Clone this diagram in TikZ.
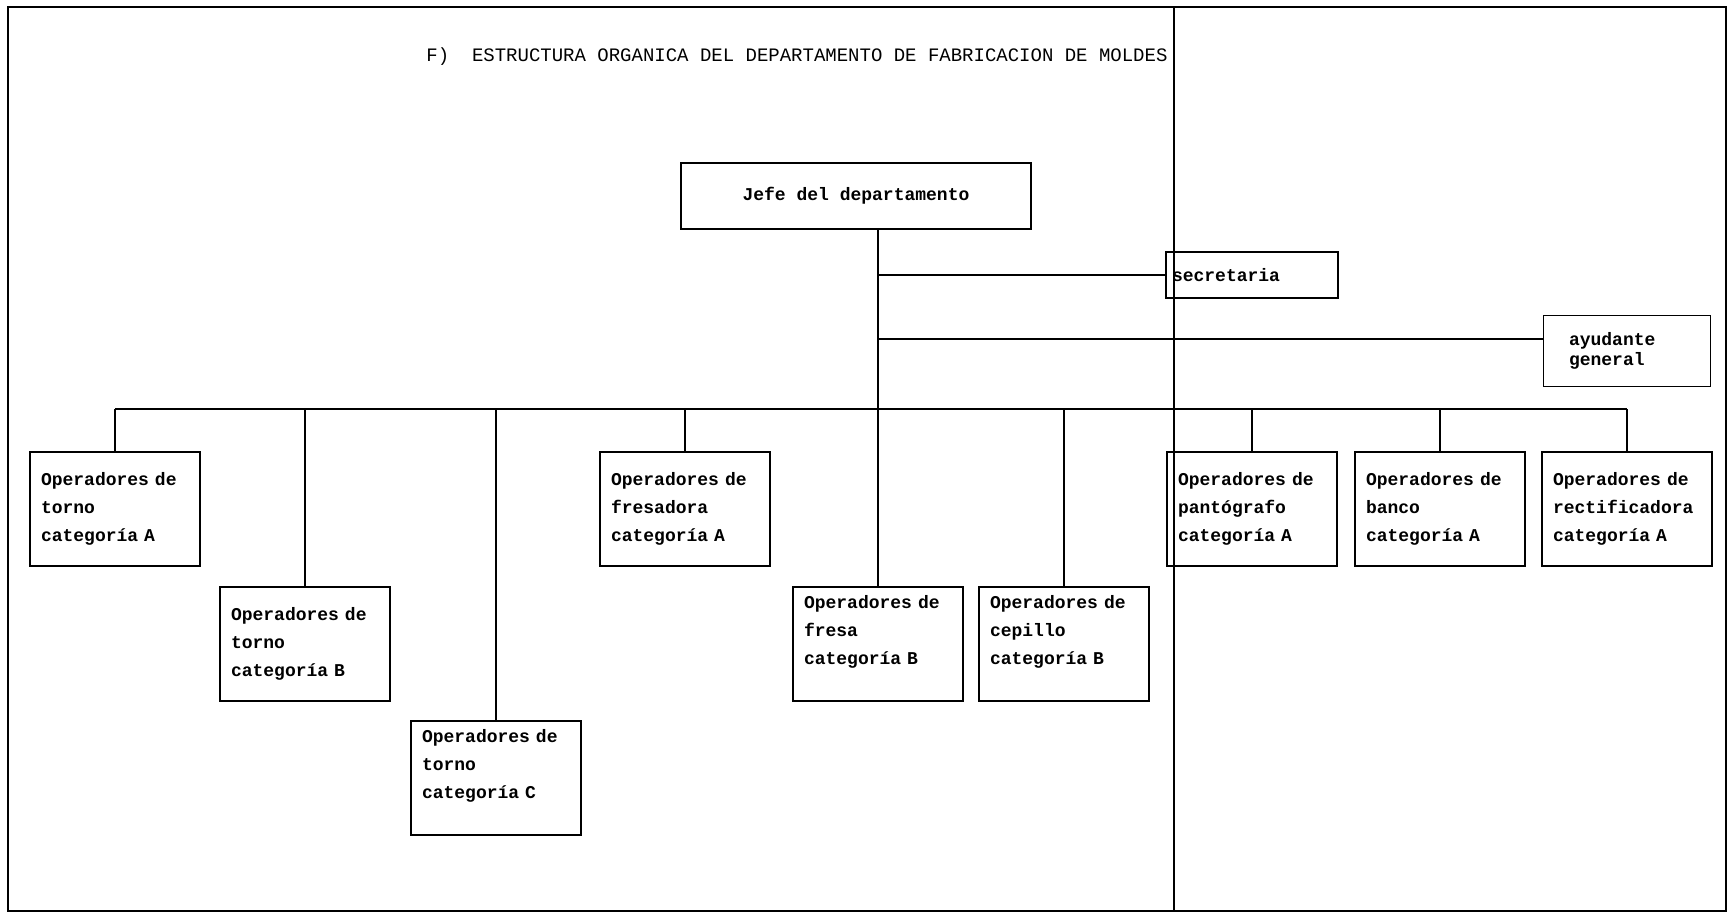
\documentclass[tikz,border=0pt]{standalone}
\usepackage{fontspec}
\newfontfamily\maquina{Liberation Mono}
\usetikzlibrary{calc}

\tikzset{
  puesto/.style={draw, line width=.9pt, align=left, text width=74pt, inner sep=3pt,
    minimum width=85pt, minimum height=57pt, font=\maquina\bfseries\fontsize{9}{14}\selectfont},
  arriba/.style={text depth=42pt},
  linea/.style={line width=.9pt}
}

\begin{document}
\begin{tikzpicture}[x=0.5pt,y=-0.5pt]
\useasboundingbox (0,0) rectangle (1729,916);
\fill[white] (0,0) rectangle (1729,916);
\draw[line width=.6pt] (8,7) rectangle (1726,911);
\draw[line width=.6pt] (1174,7) -- (1174,911);
\node[font=\maquina\fontsize{9.5}{11}\selectfont] (titulo) at (797,57) {F)~~ESTRUCTURA ORGANICA DEL DEPARTAMENTO DE FABRICACION DE MOLDES};

\node[draw, line width=.9pt, minimum width=175pt, minimum height=33pt, font=\maquina\bfseries\fontsize{9}{14}\selectfont] (jefe) at (856,196) {Jefe del departamento};
\node[draw, line width=.9pt, align=left, text width=80pt, inner sep=3pt, minimum height=23pt, font=\maquina\bfseries\fontsize{9}{14}\selectfont] (secre) at (1252,275) {secretaria};
\node[draw, line width=.9pt, align=left, text width=58pt, minimum width=83.5pt, minimum height=35.5pt, font=\maquina\bfseries\fontsize{9}{10}\selectfont] (ayud) at (1627,351) {ayudante\\general};

\node[puesto] (tornoA) at (115,509) {Operadores de\\torno\\categoría A};
\node[puesto] (fresadoraA) at (685,509) {Operadores de\\fresadora\\categoría A};
\node[puesto] (pantoA) at (1252,509) {Operadores de\\pantógrafo\\categoría A};
\node[puesto] (bancoA) at (1440,509) {Operadores de\\banco\\categoría A};
\node[puesto] (rectifA) at (1627,509) {Operadores de\\rectificadora\\categoría A};
\node[puesto] (tornoB) at (305,644) {Operadores de\\torno\\categoría B};
\node[puesto,arriba] (fresaB) at (878,644) {Operadores de\\fresa\\categoría B};
\node[puesto,arriba] (cepilloB) at (1064,644) {Operadores de\\cepillo\\categoría B};
\node[puesto,arriba] (tornoC) at (496,778) {Operadores de\\torno\\categoría C};

\coordinate (bus) at (0,409);
\draw[linea] (jefe.south -| fresaB.north) -- (fresaB.north);
\draw[linea] (secre.west -| fresaB.north) -- (secre.west);
\draw[linea] (ayud.172 -| fresaB.north) -- (ayud.172);
\draw[linea] (tornoA.north |- bus) -- (rectifA.north |- bus);
\foreach \p in {tornoA,tornoB,tornoC,fresadoraA,cepilloB,pantoA,bancoA,rectifA}
  \draw[linea] (\p.north |- bus) -- (\p.north);
\end{tikzpicture}
\end{document}
